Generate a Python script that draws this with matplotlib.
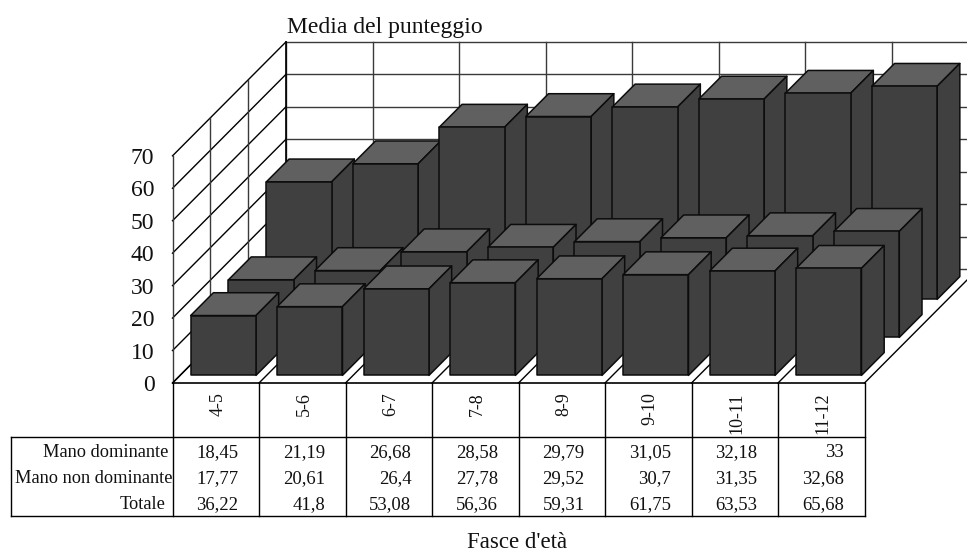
import matplotlib
matplotlib.use("Agg")
import matplotlib.pyplot as plt
from matplotlib.patches import Polygon

plt.rcParams['font.family'] = ['Liberation Serif', 'DejaVu Serif']

# Data
age_bands = ["4-5", "5-6", "6-7", "7-8", "8-9", "9-10", "10-11", "11-12"]
dominant = [18.45, 21.19, 26.68, 28.58, 29.79, 31.05, 32.18, 33]
non_dominant = [17.77, 20.61, 26.4, 27.78, 29.52, 30.7, 31.35, 32.68]
total = [36.22, 41.8, 53.08, 56.36, 59.31, 61.75, 63.53, 65.68]
series_names = ["Mano dominante", "Mano non dominante", "Totale"]
value_ticks = [0, 10, 20, 30, 40, 50, 60, 70]

# Oblique projection of the chart box, in figure pixels
W, H = 967, 552
ORIGIN_X, ORIGIN_Y = 172.5, 383.0
CAT_W = 86.5
UNIT = 3.245
DEPTH_X, DEPTH_Y = 113.5, 114.0   # full depth of the floor
BAR_FRAC = 0.755                  # bar width as a share of a category
BAR_DEPTH = 0.6                   # bar depth as a share of a series slot
N_SERIES = len(series_names)

FRONT = "#404040"
TOP = "#606060"
SIDE = "#404040"
GRID = "#3a3a3a"


def project(cat, value, depth):
    """Map (category position, value, depth 0..1) to pixels."""
    return (ORIGIN_X + cat * CAT_W + depth * DEPTH_X,
            ORIGIN_Y - value * UNIT - depth * DEPTH_Y)


fig = plt.figure(figsize=(W / 100, H / 100), dpi=100, facecolor="white")
ax = fig.add_axes([0, 0, 1, 1])
ax.set_xlim(0, W)
ax.set_ylim(H, 0)
ax.axis("off")


def line(p, q, color=GRID, lw=1.0, z=1):
    ax.plot([p[0], q[0]], [p[1], q[1]], color=color, lw=lw, zorder=z,
            solid_capstyle="projecting")


n_cat = len(age_bands)
vmax = value_ticks[-1]

# Back and left walls
for v in value_ticks:
    line(project(0, v, 1), project(n_cat, v, 1))
    line(project(0, v, 0), project(0, v, 1), color="black")
for c in range(n_cat + 1):
    line(project(c, 0, 1), project(c, vmax, 1))
for s in range(N_SERIES):
    d = (s + 1) / N_SERIES
    line(project(0, 0, d), project(0, vmax, d), lw=1.2 if s == N_SERIES - 1 else 1.0,
         color="black" if s == N_SERIES - 1 else GRID)
line(project(0, 0, 0), project(0, vmax, 0))

# Floor
for c in range(n_cat + 1):
    line(project(c, 0, 0), project(c, 0, 1), color="black")
line(project(0, 0, 0), project(n_cat, 0, 0), color="black", lw=1.2)

# Bars, from the back row forward
rows = [total, non_dominant, dominant]
z = 10
for row_i, vals in zip([2, 1, 0], rows):
    d0 = (row_i + (1 - BAR_DEPTH) / 2) / N_SERIES
    d1 = d0 + BAR_DEPTH / N_SERIES
    for c, v in enumerate(vals):
        c0 = c + (1 - BAR_FRAC) / 2
        c1 = c0 + BAR_FRAC
        faces = [
            ([project(c0, v, d0), project(c1, v, d0), project(c1, v, d1), project(c0, v, d1)], TOP),
            ([project(c1, 0, d0), project(c1, v, d0), project(c1, v, d1), project(c1, 0, d1)], SIDE),
            ([project(c0, 0, d0), project(c1, 0, d0), project(c1, v, d0), project(c0, v, d0)], FRONT),
        ]
        for pts, col in faces:
            ax.add_patch(Polygon(pts, closed=True, facecolor=col, edgecolor="#0c0c0c",
                                 lw=1.1, joinstyle="round", zorder=z))
        z += 1

# Value axis labels
for v in value_ticks:
    x, y = project(0, v, 0)
    ax.text(x - 18, y + 2.5, str(v), ha="right", va="center", fontsize=17, color="#111111")

# Data table
TABLE_LEFT = 10.5
TABLE_MID = 436.5
TABLE_BOTTOM = 516
row_y = [452.5, 478.5, 504.5]
label_right = [168, 172.5, 166]
right_x = ORIGIN_X + n_cat * CAT_W
line((TABLE_LEFT, TABLE_MID), (right_x, TABLE_MID), color="black", lw=1.0)
line((TABLE_LEFT, TABLE_BOTTOM), (right_x, TABLE_BOTTOM), color="black", lw=1.0)
line((TABLE_LEFT, TABLE_MID), (TABLE_LEFT, TABLE_BOTTOM), color="black", lw=1.0)
for c in range(n_cat + 1):
    x = ORIGIN_X + c * CAT_W
    line((x, ORIGIN_Y), (x, TABLE_BOTTOM), color="black", lw=1.0)

for c, band in enumerate(age_bands):
    ax.text(ORIGIN_X + (c + 0.5) * CAT_W + 2, 392, band, rotation=90, ha="center", va="top",
            fontsize=13, color="#111111")

for name, vals, y, lx in zip(series_names, [dominant, non_dominant, total], row_y, label_right):
    ax.text(lx, y, name, ha="right", va="center", fontsize=13.2, color="#111111")
    for c, v in enumerate(vals):
        ax.text(ORIGIN_X + c * CAT_W + 66, y, f"{v:g}".replace(".", ","), ha="right", va="center",
                fontsize=13.5, color="#111111")

# Axis titles
ax.text(287, 27, "Media del punteggio", ha="left", va="center", fontsize=17, color="#111111")
ax.text(467, 542.5, "Fasce d'età", ha="left", va="center", fontsize=16.5, color="#111111")

fig.savefig("out.png", dpi=100, facecolor="white")
